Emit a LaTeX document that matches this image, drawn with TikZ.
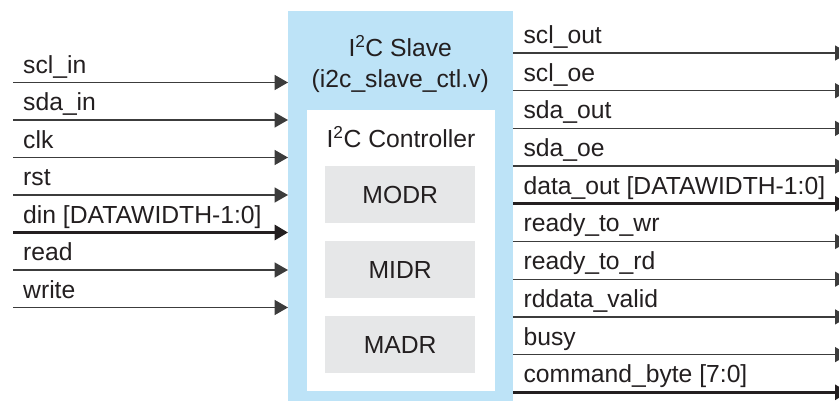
\documentclass[tikz,border=0pt]{standalone}
\usepackage{fontspec}
\setmainfont{Liberation Sans}
\usetikzlibrary{arrows.meta}
\definecolor{slaveblue}{HTML}{BDE3F7}
\definecolor{regrey}{HTML}{E6E7E8}
\definecolor{txt}{HTML}{231F20}
\definecolor{wire}{HTML}{3C3C3C}
\begin{document}
\begin{tikzpicture}[x=1pt,y=-1pt,
  font=\fontsize{24.7}{28}\selectfont,
  every node/.style={text=txt},
  box/.style={rectangle,inner sep=0pt,anchor=north west},
  sig/.style={draw=wire,line width=1.3pt,-{Triangle[length=13.4pt,width=15pt]}},
  bus/.style={draw=txt,line width=3pt,-{Triangle[length=13.4pt,width=15pt]}},
  lab/.style={anchor=base west,inner sep=0pt}]
\clip (0,0) rectangle (839,401);
\fill[white] (0,0) rectangle (839,401);
% blocks
\node[box,fill=slaveblue,minimum width=224.5pt,minimum height=400pt] (slave) at (288,11) {};
\node[box,fill=white,minimum width=188pt,minimum height=281pt] (ctrl) at (307,110) {};
\node[box,fill=regrey,minimum width=150pt,minimum height=57pt] (modr) at (325,166) {};
\node[box,fill=regrey,minimum width=150pt,minimum height=57pt] (midr) at (325,241) {};
\node[box,fill=regrey,minimum width=150pt,minimum height=57pt] (madr) at (325,316) {};
\node at (modr.center) {MODR};
\node at (midr.center) {MIDR};
\node at (madr.center) {MADR};
\node[anchor=base,inner sep=0pt] (t1) at (400.25,57) {I\textsuperscript{2}C Slave};
\node[anchor=base,inner sep=0pt] (t2) at (400.25,87.5) {(i2c\_slave\_ctl.v)};
\node[anchor=base,inner sep=0pt] (t3) at (401,148) {I\textsuperscript{2}C Controller};
% inputs
\foreach \lab/\st [count=\i] in {scl\_in/sig, sda\_in/sig, clk/sig, rst/sig, {din [DATAWIDTH-1:0]}/bus, read/sig, write/sig} {
  \coordinate (in\i) at (13,{82.5+37.5*(\i-1)});
  \node[lab] (inlab\i) at ([shift={(10,-9)}]in\i) {\lab};
  \draw[\st] (in\i) -- (in\i -| slave.west);
}
% outputs
\foreach \lab/\st [count=\i] in {scl\_out/sig, scl\_oe/sig, sda\_out/sig, sda\_oe/sig, {data\_out [DATAWIDTH-1:0]}/bus, ready\_to\_wr/sig, ready\_to\_rd/sig, rddata\_valid/sig, busy/sig, {command\_byte [7:0]}/bus} {
  \coordinate (out\i) at (848.4,{53+37.7*(\i-1)});
  \node[lab] (outlab\i) at ([shift={(10.5,-9.5)}]out\i -| slave.east) {\lab};
  \draw[\st] (out\i -| slave.east) -- (out\i);
}
\end{tikzpicture}
\end{document}
